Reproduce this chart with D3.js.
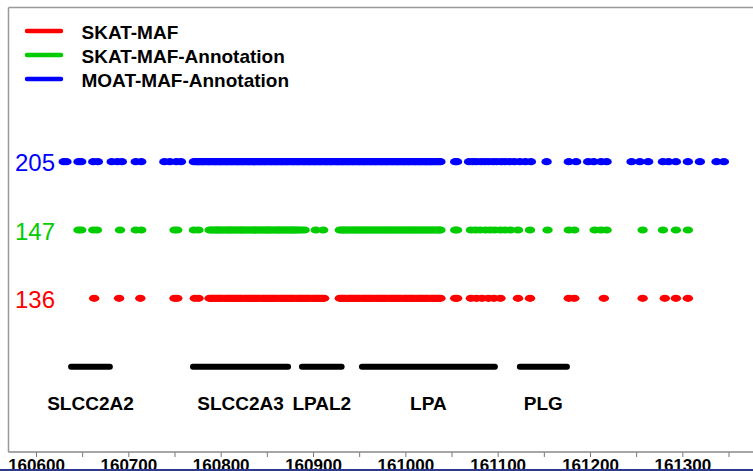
<!DOCTYPE html>
<html>
<head>
<meta charset="utf-8">
<script src="https://cdn.jsdelivr.net/npm/d3@7"></script>
<style>
  html, body { margin: 0; padding: 0; background: #fff; }
  svg { display: block; font-family: "Liberation Sans", Arial, sans-serif; }
</style>
</head>
<body>
<svg id="chart" width="753" height="471"></svg>
<script>
// Variant positions (bp offset) kept by each method
const skatMaf = [
  160663, 160690, 160713, 160750, 160753, 160772, 160776,
  160788, 160790, 160792, 160794, 160796, 160798, 160800, 160802, 160805, 160807,
  160809, 160811, 160813, 160815, 160817, 160819, 160821, 160823, 160826, 160828,
  160830, 160832, 160834, 160836, 160838, 160840, 160842, 160845, 160847, 160849,
  160851, 160853, 160855, 160857, 160859, 160861, 160864, 160866, 160868, 160870,
  160872, 160874, 160876, 160878, 160880, 160883, 160885, 160887, 160889, 160891,
  160893, 160895, 160897, 160900, 160902, 160904, 160906, 160908, 160910, 160912,
  160929, 160931, 160933, 160935, 160938, 160940, 160942, 160944, 160946, 160948,
  160950, 160953, 160955, 160957, 160959, 160961, 160963, 160965, 160968, 160970,
  160972, 160974, 160976, 160978, 160980, 160983, 160985, 160987, 160989, 160991,
  160993, 160995, 160998, 161000, 161002, 161004, 161006, 161008, 161010, 161013,
  161015, 161017, 161019, 161021, 161023, 161025, 161028, 161030, 161032, 161034,
  161036, 161038,
  161054, 161056, 161071, 161077, 161083, 161090, 161096, 161103, 161122, 161135,
  161177, 161183, 161215, 161257, 161281, 161293, 161306
];

const skatMafAnnotation = [
  160646, 160649, 160662, 160666, 160691, 160708, 160714, 160750, 160753, 160771, 160776,
  160788, 160790, 160792, 160794, 160796, 160797, 160799, 160801, 160803, 160805,
  160807, 160809, 160810, 160812, 160814, 160816, 160818, 160820, 160822, 160823,
  160825, 160827, 160829, 160831, 160833, 160835, 160837, 160838, 160840, 160842,
  160844, 160846, 160848, 160850, 160851, 160853, 160855, 160857, 160859, 160861,
  160863, 160864, 160866, 160868, 160870, 160872, 160874, 160876, 160877, 160879,
  160881, 160883, 160885, 160888, 160891,
  160903, 160911,
  160929, 160931, 160933, 160935, 160937, 160939, 160941, 160943, 160945, 160947,
  160949, 160951, 160953, 160955, 160957, 160959, 160961, 160963, 160965, 160967,
  160969, 160971, 160973, 160975, 160977, 160979, 160981, 160983, 160985, 160987,
  160989, 160991, 160993, 160995, 160997, 160999, 161001, 161003, 161005, 161007,
  161009, 161011, 161013, 161015, 161017, 161019, 161021, 161023, 161025, 161027,
  161029, 161031, 161033, 161035, 161037, 161038,
  161054, 161056, 161071, 161076, 161081, 161087, 161092, 161097, 161103, 161108,
  161114, 161122, 161135, 161154, 161177, 161183, 161205, 161212, 161218,
  161257, 161279, 161293, 161306
];

const moatMafAnnotation = [
  160630, 160633, 160646, 160649, 160662, 160667, 160682, 160688, 160693, 160708,
  160714, 160739, 160745, 160752, 160757,
  160771, 160773, 160775, 160776, 160778, 160780, 160781, 160783, 160785, 160787,
  160788, 160790, 160792, 160794, 160795, 160797, 160799, 160800, 160802, 160804,
  160806, 160807, 160809, 160811, 160812, 160814, 160816, 160818, 160819, 160821,
  160823, 160824, 160826, 160828, 160830, 160831, 160833, 160835, 160836, 160838,
  160840, 160842, 160843, 160845, 160847, 160848, 160850, 160852, 160854, 160855,
  160857, 160859, 160860, 160862, 160864, 160866, 160867, 160869, 160871, 160872,
  160874, 160876, 160878, 160879, 160881, 160883, 160884, 160886, 160888, 160890,
  160891, 160893, 160895, 160896, 160898, 160900, 160902, 160903, 160905, 160907,
  160908, 160910, 160912, 160914, 160915, 160917, 160919, 160920, 160922, 160924,
  160926, 160927, 160929, 160931, 160932, 160934, 160936, 160938, 160939, 160941,
  160943, 160944, 160946, 160948, 160950, 160951, 160953, 160955, 160956, 160958,
  160960, 160962, 160963, 160965, 160967, 160968, 160970, 160972, 160974, 160975,
  160977, 160979, 160980, 160982, 160984, 160986, 160987, 160989, 160991, 160992,
  160994, 160996, 160998, 160999, 161001, 161003, 161004, 161006, 161008, 161010,
  161011, 161013, 161015, 161016, 161018, 161020, 161022, 161023, 161025, 161027,
  161028, 161030, 161032, 161034, 161036, 161038,
  161054, 161056,
  161069, 161073, 161077, 161082, 161086, 161090, 161095, 161099, 161104, 161108,
  161113, 161118, 161124, 161130, 161136,
  161153, 161177, 161185, 161198, 161204, 161212, 161218, 161245, 161254, 161263,
  161279, 161285, 161293, 161306, 161319, 161337, 161345
];

// Row labels (variant counts) and series names
const rowLabels = ["205", "147", "136"];
const seriesNames = ["SKAT-MAF", "SKAT-MAF-Annotation", "MOAT-MAF-Annotation"];
const seriesColors = ["#ff0000", "#00cc00", "#0000ff"];
const seriesData = [skatMaf, skatMafAnnotation, moatMafAnnotation];
const seriesRows = ["136", "147", "205"];

// Gene spans
const geneNames = ["SLCC2A2", "SLCC2A3", "LPAL2", "LPA", "PLG"];
const geneStarts = [160638, 160770, 160888, 160953, 161124];
const geneEnds = [160680, 160873, 160931, 161097, 161175];

// Axis ticks
const tickValues = [160600, 160650, 160700, 160750, 160800, 160850, 160900, 160950,
  161000, 161050, 161100, 161150, 161200, 161250, 161300, 161350];
const labelledTicks = [160600, 160700, 160800, 160900, 161000, 161100, 161200, 161300];

const svg = d3.select("#chart");

const x = d3.scaleLinear().domain([160570, 161380]).range([8.3, 756.2]);
const y = d3.scalePoint().domain(rowLabels).range([161.7, 298.3]);

const axisY = 452;
const geneY = 366.7;

// Frame
svg.append("line").attr("x1", 8.5).attr("x2", 8.5).attr("y1", 7.5).attr("y2", axisY)
  .attr("stroke", "#999").attr("stroke-width", 1.5);
svg.append("line").attr("x1", 8.5).attr("x2", 753).attr("y1", 7.5).attr("y2", 7.5)
  .attr("stroke", "#999").attr("stroke-width", 1.5);

// Bottom axis
const axis = d3.axisBottom(x)
  .tickValues(tickValues)
  .tickSize(5)
  .tickSizeOuter(0)
  .tickPadding(2)
  .tickFormat(d => labelledTicks.includes(d) ? String(d) : "");
const gAxis = svg.append("g").attr("transform", `translate(0,${axisY})`).call(axis);
gAxis.select(".domain").remove();
gAxis.append("line").attr("x1", 8.5).attr("x2", 753).attr("y1", 0).attr("y2", 0)
  .attr("stroke", "#888").attr("stroke-width", 1.5);
gAxis.selectAll(".tick line").attr("stroke", "#777").attr("stroke-width", 1);
gAxis.selectAll(".tick text")
  .attr("fill", "#000")
  .style("font-family", "'Liberation Sans', Arial, sans-serif")
  .style("font-size", "17px")
  .style("font-weight", "bold");

// Variant dots
seriesData.forEach((vals, i) => {
  svg.append("g").selectAll("ellipse").data(vals).join("ellipse")
    .attr("cx", d => x(d))
    .attr("cy", y(seriesRows[i]))
    .attr("rx", 5.2).attr("ry", 3.6)
    .attr("fill", seriesColors[i]);
});

// Row labels
svg.append("g").selectAll("text").data(seriesRows).join("text")
  .attr("x", 55)
  .attr("y", d => y(d) + 9.5)
  .attr("text-anchor", "end")
  .attr("fill", (d, i) => seriesColors[i])
  .style("font-size", "24px")
  .text(d => d);

// Genes
const genes = geneNames.map((n, i) => ({ name: n, start: geneStarts[i], end: geneEnds[i] }));
svg.append("g").selectAll("line").data(genes).join("line")
  .attr("x1", d => x(d.start)).attr("x2", d => x(d.end))
  .attr("y1", geneY).attr("y2", geneY)
  .attr("stroke", "#000").attr("stroke-width", 6).attr("stroke-linecap", "round");
svg.append("g").selectAll("text").data(genes).join("text")
  .attr("x", d => x((d.start + d.end) / 2))
  .attr("y", 410)
  .attr("text-anchor", "middle")
  .style("font-size", "19px").style("font-weight", "bold")
  .text(d => d.name);

// Legend
const legendY = [31, 55, 79];
const lg = svg.append("g");
seriesNames.forEach((name, i) => {
  lg.append("line").attr("x1", 27).attr("x2", 61)
    .attr("y1", legendY[i]).attr("y2", legendY[i])
    .attr("stroke", seriesColors[i]).attr("stroke-width", 4.5).attr("stroke-linecap", "round");
  lg.append("text").attr("x", 81.5).attr("y", legendY[i] + 7.5)
    .style("font-size", "19px").style("font-weight", "bold")
    .text(name);
});

// Bottom rule
svg.append("rect").attr("x", 0).attr("y", 469).attr("width", 753).attr("height", 2)
  .attr("fill", "#2b3a8f");
</script>
</body>
</html>
